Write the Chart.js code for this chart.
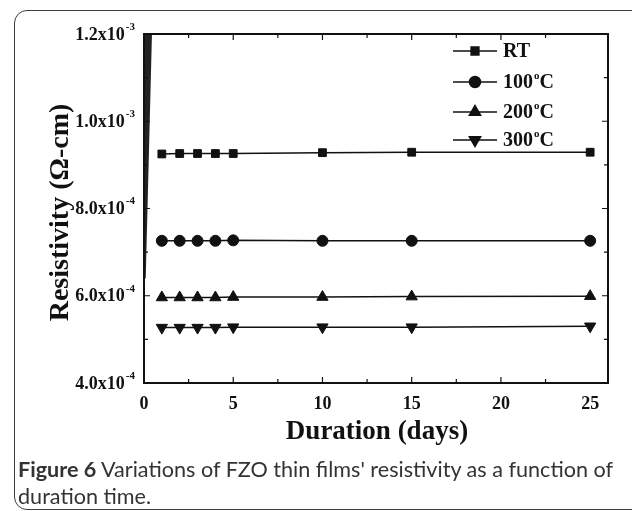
<!DOCTYPE html>
<html>
<head>
<meta charset="utf-8">
<script src="https://cdn.jsdelivr.net/npm/chart.js@4.4.1/dist/chart.umd.min.js"></script>
<style>
  html, body { margin: 0; padding: 0; background: #fff; }
  #wrap { position: relative; width: 632px; height: 511px; overflow: hidden; }
  #frame {
    position: absolute; left: 14px; top: 10px; width: 640px; height: 498px;
    border: 1.5px solid #3c3c3c; border-radius: 13px;
  }
  #chartBox { position: absolute; left: 0; top: 0; width: 632px; height: 511px; }
  #caption {
    position: absolute; left: 18px; top: 456px; width: 612px;
    font-family: Lato, "Open Sans", sans-serif; font-size: 21.6px; line-height: 27px;
    color: #333;
  }
  #caption b { font-weight: bold; }
</style>
</head>
<body>
<div id="wrap">
  <div id="frame"></div>
  <div id="chartBox"><canvas id="chart"></canvas></div>
  <div id="caption"><b>Figure 6</b> Variations of FZO thin films' resistivity as a function of<br>duration time.</div>
</div>
<script>
// durée (jours) et résistivité (ohm-cm)
const days = [1, 2, 3, 4, 5, 10, 15, 25];
const seriesNames = ['RT', '100°C', '200°C', '300°C'];
const rtValues   = [9.25e-4, 9.26e-4, 9.26e-4, 9.26e-4, 9.26e-4, 9.28e-4, 9.29e-4, 9.29e-4];
const t100Values = [7.26e-4, 7.26e-4, 7.26e-4, 7.26e-4, 7.27e-4, 7.26e-4, 7.26e-4, 7.26e-4];
const t200Values = [5.96e-4, 5.96e-4, 5.96e-4, 5.96e-4, 5.97e-4, 5.97e-4, 5.98e-4, 5.99e-4];
const t300Values = [5.27e-4, 5.27e-4, 5.27e-4, 5.27e-4, 5.28e-4, 5.28e-4, 5.28e-4, 5.30e-4];
// trait épais le long de l'axe gauche (présent sur la figure)
const edgeX = [0.25, -0.1];
const edgeY = [1.2e-3, 6.4e-4];
const xTickLabels = ['0', '5', '10', '15', '20', '25'];

const pts = (vals) => days.map((d, i) => ({ x: d, y: vals[i] }));
const styles = [
  { pointStyle: 'rect', radius: 5.5, rotation: 0 },
  { pointStyle: 'circle', radius: 5.5, rotation: 0 },
  { pointStyle: 'triangle', radius: 6.5, rotation: 0 },
  { pointStyle: 'triangle', radius: 6.5, rotation: 180 }
];
const allValues = [rtValues, t100Values, t200Values, t300Values];

const datasets = allValues.map((vals, i) => ({
  label: seriesNames[i],
  data: pts(vals),
  borderColor: '#111',
  backgroundColor: '#111',
  borderWidth: 1.5,
  pointStyle: styles[i].pointStyle,
  pointRadius: styles[i].radius,
  pointRotation: styles[i].rotation,
  pointBorderWidth: 1
}));
datasets.push({
  label: 'edge',
  data: edgeX.map((x, i) => ({ x: x, y: edgeY[i] })),
  borderColor: '#222',
  borderWidth: 7,
  pointRadius: 0,
  clip: { left: 0, top: 0, right: 0, bottom: 0 }
});

const serif = '"Liberation Serif", "Times New Roman", serif';

const axesPlugin = {
  id: 'axesPlugin',
  afterDraw(chart) {
    const ctx = chart.ctx;
    const a = chart.chartArea;
    const xs = chart.scales.x, ys = chart.scales.y;
    ctx.save();
    ctx.strokeStyle = '#111';
    ctx.fillStyle = '#111';

    // ticks, pointing inward on all four sides
    ctx.lineWidth = 1.2;
    xs.ticks.forEach(t => {
      const px = xs.getPixelForValue(t.value);
      const major = Math.abs(t.value / 5 - Math.round(t.value / 5)) < 1e-6;
      const len = major ? 6 : 4;
      ctx.beginPath();
      ctx.moveTo(px, a.bottom); ctx.lineTo(px, a.bottom - len);
      ctx.moveTo(px, a.top); ctx.lineTo(px, a.top + len);
      ctx.stroke();
    });
    ys.ticks.forEach(t => {
      const py = ys.getPixelForValue(t.value);
      const major = Math.round(t.value / 1e-4) % 2 === 0;
      const len = major ? 6 : 4;
      ctx.beginPath();
      ctx.moveTo(a.left, py); ctx.lineTo(a.left + len, py);
      ctx.moveTo(a.right, py); ctx.lineTo(a.right - len, py);
      ctx.stroke();
    });

    // cadre
    ctx.lineWidth = 2;
    ctx.strokeRect(a.left, a.top, a.right - a.left, a.bottom - a.top);

    // x tick labels
    ctx.font = 'bold 18px ' + serif;
    ctx.textAlign = 'center';
    ctx.textBaseline = 'middle';
    xTickLabels.forEach(lbl => {
      ctx.fillText(lbl, xs.getPixelForValue(Number(lbl)), a.bottom + 21);
    });

    // y tick labels with exponent
    ys.ticks.forEach(t => {
      if (Math.round(t.value / 1e-4) % 2 !== 0) return;
      const py = ys.getPixelForValue(t.value);
      const e = Math.floor(Math.log10(t.value) + 1e-9);
      const m = (t.value / Math.pow(10, e)).toFixed(1);
      const rightX = 135;
      ctx.font = 'bold 11px ' + serif;
      ctx.textAlign = 'right';
      ctx.textBaseline = 'middle';
      const ew = ctx.measureText(String(e)).width;
      ctx.fillText(String(e), rightX, py - 7);
      ctx.font = 'bold 18px ' + serif;
      ctx.fillText(m + 'x10', rightX - ew - 1, py + 1);
    });

    // axis titles
    ctx.font = 'bold 27px ' + serif;
    ctx.textAlign = 'center';
    ctx.textBaseline = 'middle';
    ctx.fillText('Duration (days)', (a.left + a.right) / 2 + 1, 432);
    ctx.font = 'bold 28px ' + serif;
    ctx.save();
    ctx.translate(61, (a.top + a.bottom) / 2 + 4);
    ctx.rotate(-Math.PI / 2);
    ctx.fillText('Resistivity (\u03A9-cm)', 0, 0);
    ctx.restore();

    // legend
    const rowY = [51, 82, 112, 140];
    seriesNames.forEach((name, i) => {
      const y = rowY[i];
      ctx.lineWidth = 1.5;
      ctx.beginPath();
      ctx.moveTo(453, y); ctx.lineTo(497, y);
      ctx.stroke();
      Chart.helpers.drawPoint(ctx, {
        pointStyle: styles[i].pointStyle,
        radius: styles[i].radius,
        rotation: styles[i].rotation,
        borderWidth: 1
      }, 475, y);
      ctx.font = 'bold 20px ' + serif;
      ctx.textAlign = 'left';
      ctx.textBaseline = 'middle';
      if (name === 'RT') {
        ctx.fillText(name, 503, y + 1);
      } else {
        const num = name.replace('°C', '');
        ctx.fillText(num, 503, y + 1);
        let w = ctx.measureText(num).width;
        ctx.font = 'bold 11px ' + serif;
        ctx.fillText('o', 503 + w + 1, y - 6);
        const ow = ctx.measureText('o').width;
        ctx.font = 'bold 20px ' + serif;
        ctx.fillText('C', 503 + w + ow + 1, y + 1);
      }
    });
    ctx.restore();
  }
};

new Chart(document.getElementById('chart'), {
  type: 'line',
  data: { datasets: datasets },
  options: {
    responsive: true,
    maintainAspectRatio: false,
    animation: false,
    layout: { padding: { left: 144, top: 34, right: 24, bottom: 128 } },
    plugins: { legend: { display: false }, tooltip: { enabled: false } },
    scales: {
      x: { type: 'linear', min: 0, max: 26, display: false, ticks: { stepSize: 2.5 } },
      y: { type: 'linear', min: 4e-4, max: 1.2e-3, display: false, ticks: { stepSize: 1e-4 } }
    }
  },
  plugins: [axesPlugin]
});
</script>
</body>
</html>
